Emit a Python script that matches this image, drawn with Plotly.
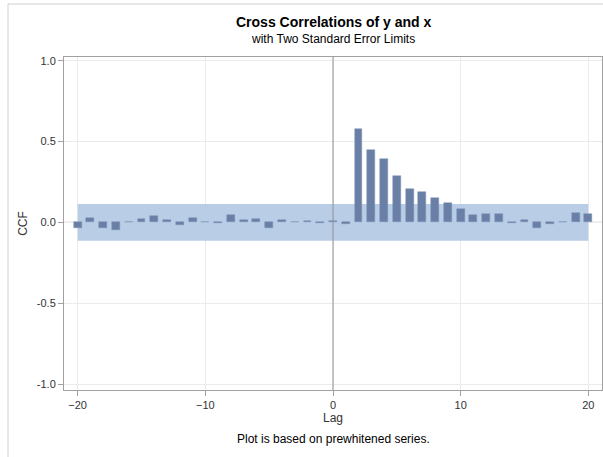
import plotly.graph_objects as go

lags = list(range(-20, 21))
ccf = [-0.037, 0.025, -0.033, -0.045, 0.003, 0.020, 0.041, 0.016, -0.015, 0.025,
       0.000, -0.005, 0.043, 0.012, 0.022, -0.035, 0.012, 0.000, 0.008, -0.005,
       0.010, -0.010, 0.580, 0.446, 0.390, 0.288, 0.204, 0.190, 0.150, 0.117,
       0.084, 0.045, 0.051, 0.053, -0.002, 0.016, -0.033, -0.012, 0.000, 0.060,
       0.051]
limit = [0.114] * len(lags)

x_ticks = [-20, -10, 0, 10, 20]
y_ticks = [-1.0, -0.5, 0.0, 0.5, 1.0]
y_tick_labels = ["-1.0", "-0.5", "0.0", "0.5", "1.0"]

FONT = "Liberation Sans, Arial, sans-serif"
W, H = 603, 457
ML, MR, MT, MB = 64, 1, 57, 67
pw, ph = W - ML - MR, H - MT - MB

fig = go.Figure()
fig.add_trace(go.Bar(x=lags, y=ccf, width=0.62, marker=dict(color="#6a7fa6",
                     line=dict(color="#7d90b3", width=0.5)), showlegend=False))

fig.update_layout(
    width=W, height=H,
    margin=dict(l=ML, r=MR, t=MT, b=MB),
    paper_bgcolor="white", plot_bgcolor="white",
    font=dict(family=FONT, color="#333333", size=11),
    bargap=0,
    xaxis=dict(range=[-21.07, 21.07], tickvals=x_ticks, showgrid=True,
               gridcolor="#ebebeb", gridwidth=1, zeroline=False,
               ticks="outside", ticklen=5, tickcolor="#a0a0a0",
               showline=True, linecolor="#a0a0a0", mirror=True,
               tickfont=dict(size=11, color="#333333"),
               title=dict(text="Lag", font=dict(size=12, color="#333333"), standoff=3)),
    yaxis=dict(range=[-1.037, 1.023], tickvals=y_ticks, ticktext=y_tick_labels,
               showgrid=True, gridcolor="#ebebeb", gridwidth=1, zeroline=False,
               ticks="outside", ticklen=5, tickcolor="#a0a0a0",
               showline=True, linecolor="#a0a0a0", mirror=True,
               tickfont=dict(size=11, color="#333333"),
               title=dict(text="CCF", font=dict(size=12, color="#333333"), standoff=6)),
    shapes=[
        dict(type="rect", xref="x", yref="y", x0=lags[0], x1=lags[-1],
             y0=-limit[0], y1=limit[0], line=dict(width=0),
             fillcolor="#b9cde6", layer="between"),
        dict(type="line", xref="paper", yref="y", x0=0, x1=1, y0=0, y1=0,
             line=dict(color="#909090", width=1), layer="between"),
        dict(type="line", xref="x", yref="paper", x0=0, x1=0, y0=0, y1=1,
             line=dict(color="#909090", width=1)),
        dict(type="rect", xref="paper", yref="paper",
             x0=(8 - ML) / pw, x1=(W + 5 - ML) / pw,
             y0=-1.0, y1=(H - 4 - MB) / ph,
             line=dict(color="#d0d0d0", width=1), fillcolor="rgba(0,0,0,0)"),
    ],
    annotations=[
        dict(text="<b>Cross Correlations of y and x</b>", xref="paper", yref="paper",
             x=0.5, y=(H - 22 - MB) / ph, xanchor="center", yanchor="middle",
             showarrow=False, font=dict(size=14, color="#000000")),
        dict(text="with Two Standard Error Limits", xref="paper", yref="paper",
             x=0.5, y=(H - 39 - MB) / ph, xanchor="center", yanchor="middle",
             showarrow=False, font=dict(size=12, color="#000000")),
        dict(text="Plot is based on prewhitened series.", xref="paper", yref="paper",
             x=0.5, y=(H - 439 - MB) / ph, xanchor="center", yanchor="middle",
             showarrow=False, font=dict(size=12, color="#000000")),
    ],
)

fig.write_html("out.html")
